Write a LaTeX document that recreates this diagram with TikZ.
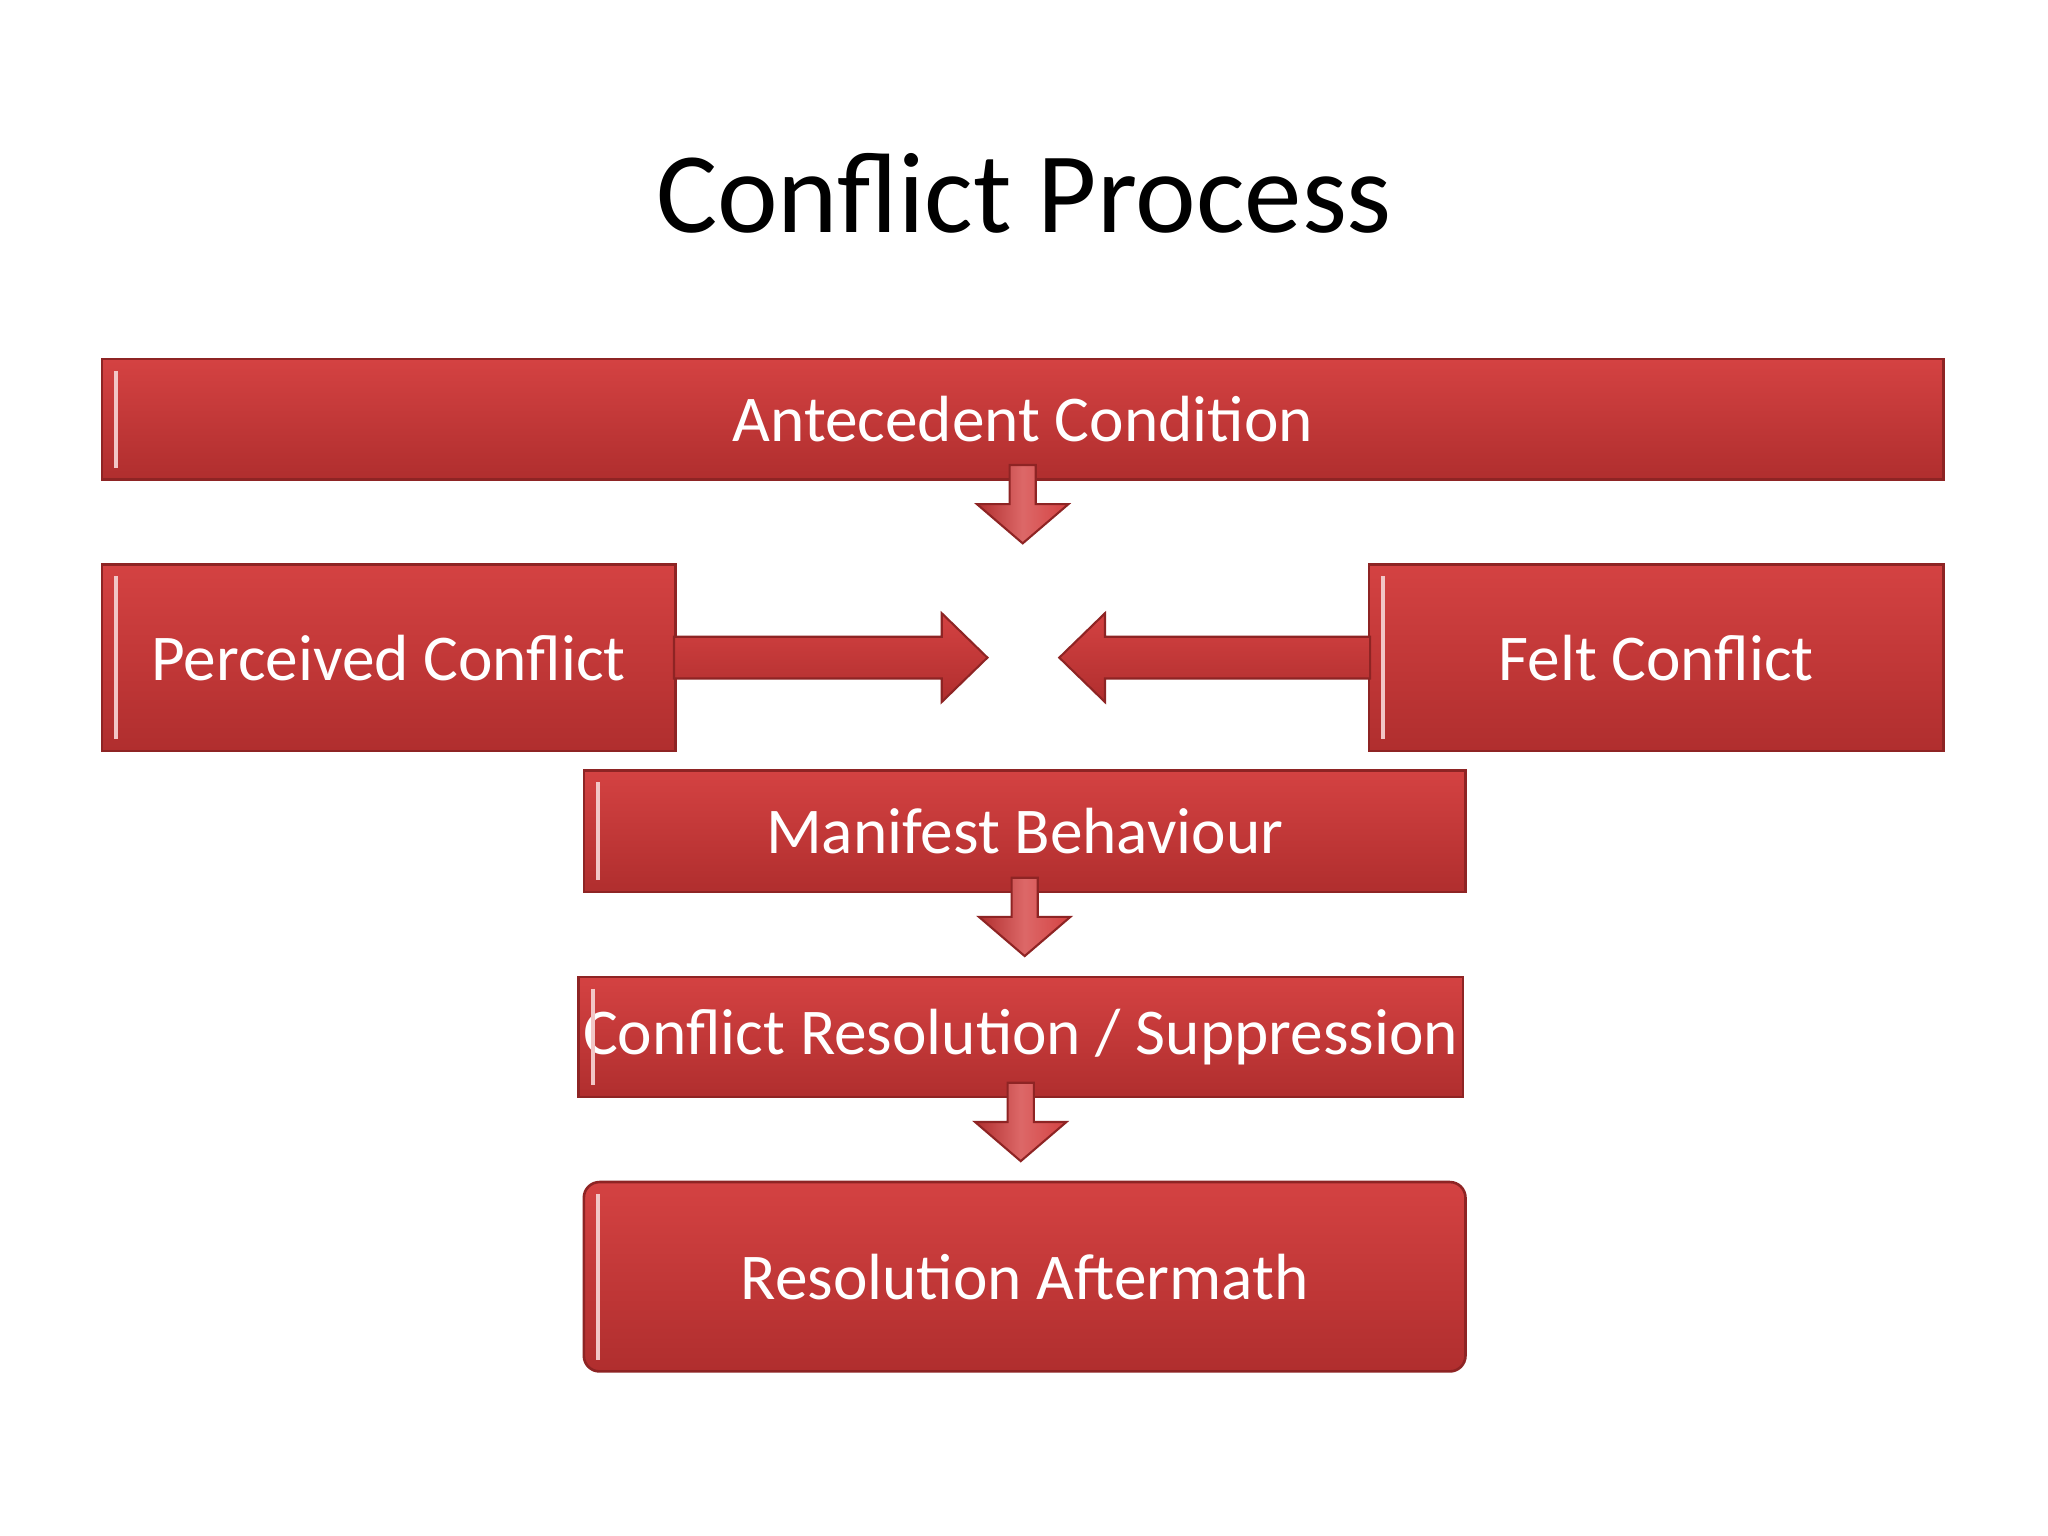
\documentclass[tikz,border=0pt]{standalone}
\usepackage{fontspec}
\setmainfont{Carlito}
\usetikzlibrary{calc}
\definecolor{rtop}{HTML}{D44242}
\definecolor{rbot}{HTML}{B02E2E}
\definecolor{redge}{HTML}{8E2424}
\tikzset{
  box/.style={draw=redge, line width=1pt, top color=rtop, bottom color=rbot, text=white, font=\fontsize{25}{30}\selectfont, inner sep=0pt},
  arr/.style={draw=redge, line width=0.8pt, left color=rbot, right color=rtop, middle color=rtop!80!white},
  harr/.style={draw=redge, line width=0.8pt, top color=rtop, bottom color=rbot},
}
\begin{document}
\begin{tikzpicture}[x=0.5pt,y=-0.5pt]
\useasboundingbox (0,0) rectangle (1568,1176);
\fill[white] (0,0) rectangle (1568,1176);
\node[font=\fontsize{44}{50}\selectfont] (T) at (784,148) {Conflict Process};
\newcommand\bx[6]{\node[box, minimum width=#3*0.5pt, minimum height=#4*0.5pt,#6] (#1) at (#2) {#5};}
\bx{A}{783,321}{1410}{92}{Antecedent Condition}{}
\bx{P}{297.5,503.5}{439}{143}{Perceived Conflict}{}
\bx{F}{1268,503.5}{440}{143}{Felt Conflict}{}
\bx{M}{784.5,636.5}{675}{93}{Manifest Behaviour}{}
\bx{C}{781.5,794}{677}{92}{Conflict Resolution / Suppression}{}
\bx{R}{784.5,977.5}{675}{145}{Resolution Aftermath}{rounded corners=6pt}
% bevel highlights
\foreach \n in {A,P,F,M,C,R}{
  \draw[white!70!rtop, line width=1.5pt] ($(\n.north west)+(12,10)$) -- ($(\n.south west)+(12,-10)$);
}
% down arrows
\foreach \n in {A,M,C}{
  \filldraw[arr] ($(\n.south)+(-10,-12)$) -- ++(20,0) -- ++(0,30) -- ++(25,0) -- ++(-35,30) -- ++(-35,-30) -- ++(25,0) -- cycle;
}
% right arrow
\filldraw[harr] ($(P.east)+(-2,-16)$) -- ++(205,0) -- ++(0,-18) -- ++(35,34) -- ++(-35,34) -- ++(0,-18) -- ++(-205,0) -- cycle;
% left arrow
\filldraw[harr] ($(F.west)+(2,-16)$) -- ++(-203,0) -- ++(0,-18) -- ++(-35,34) -- ++(35,34) -- ++(0,-18) -- ++(203,0) -- cycle;
\end{tikzpicture}
\end{document}
